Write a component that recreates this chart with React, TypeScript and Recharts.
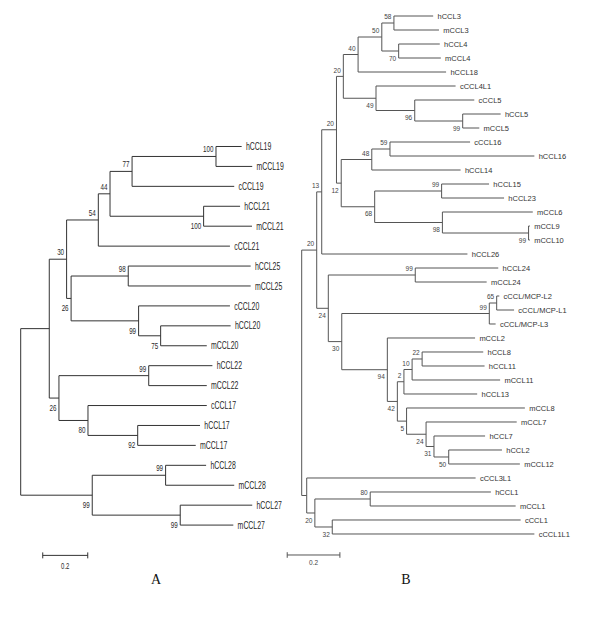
import { ComposedChart, ReferenceLine, Scatter, XAxis, YAxis } from 'recharts'

// ---- panel A: CCL19/21/25/20/22/17/28/27 ----
const leavesA = [
  'hCCL19', 'mCCL19', 'cCCL19', 'hCCL21', 'mCCL21', 'cCCL21', 'hCCL25', 'mCCL25', 'cCCL20', 'hCCL20',
  'mCCL20', 'hCCL22', 'mCCL22', 'cCCL17', 'hCCL17', 'mCCL17', 'hCCL28', 'mCCL28', 'hCCL27', 'mCCL27',
]
// distance from root (substitutions per site)
const leafDepthA = [
  0.982, 1.029, 0.949, 0.975, 1.028, 0.93, 1.022, 1.022, 0.93, 0.933,
  0.827, 0.852, 0.827, 0.827, 0.797, 0.778, 0.824, 0.949, 1.029, 0.945,
]

type Clade = { id: string; kids: [string, string]; depth: number; boot: number | null }

// kids are listed top first
const cladesA: Clade[] = [
  { id: 'a1', kids: ['hCCL19', 'mCCL19'], depth: 0.868, boot: 100 },
  { id: 'a2', kids: ['a1', 'cCCL19'], depth: 0.495, boot: 77 },
  { id: 'a3', kids: ['hCCL21', 'mCCL21'], depth: 0.813, boot: 100 },
  { id: 'a4', kids: ['a2', 'a3'], depth: 0.397, boot: 44 },
  { id: 'a5', kids: ['a4', 'cCCL21'], depth: 0.345, boot: 54 },
  { id: 'a6', kids: ['hCCL25', 'mCCL25'], depth: 0.478, boot: 98 },
  { id: 'a7', kids: ['hCCL20', 'mCCL20'], depth: 0.622, boot: 75 },
  { id: 'a8', kids: ['cCCL20', 'a7'], depth: 0.524, boot: 99 },
  { id: 'a9', kids: ['a6', 'a8'], depth: 0.224, boot: 26 },
  { id: 'a10', kids: ['a5', 'a9'], depth: 0.204, boot: 30 },
  { id: 'a11', kids: ['hCCL22', 'mCCL22'], depth: 0.569, boot: 99 },
  { id: 'a12', kids: ['hCCL17', 'mCCL17'], depth: 0.52, boot: 92 },
  { id: 'a13', kids: ['cCCL17', 'a12'], depth: 0.299, boot: 80 },
  { id: 'a14', kids: ['a11', 'a13'], depth: 0.17, boot: 26 },
  { id: 'a15', kids: ['a10', 'a14'], depth: 0.127, boot: null },
  { id: 'a16', kids: ['hCCL28', 'mCCL28'], depth: 0.644, boot: 99 },
  { id: 'a17', kids: ['hCCL27', 'mCCL27'], depth: 0.709, boot: 99 },
  { id: 'a18', kids: ['a16', 'a17'], depth: 0.318, boot: 99 },
  { id: 'a19', kids: ['a15', 'a18'], depth: 0, boot: null },
]

// ---- panel B: the CC chemokines ----
const leavesB = [
  'hCCL3', 'mCCL3', 'hCCL4', 'mCCL4', 'hCCL18', 'cCCL4L1', 'cCCL5', 'hCCL5', 'mCCL5', 'cCCL16',
  'hCCL16', 'hCCL14', 'hCCL15', 'hCCL23', 'mCCL6', 'mCCL9', 'mCCL10', 'hCCL26', 'hCCL24', 'mCCL24',
  'cCCL/MCP-L2', 'cCCL/MCP-L1', 'cCCL/MCP-L3', 'mCCL2', 'hCCL8', 'hCCL11', 'mCCL11', 'hCCL13', 'mCCL8', 'mCCL7',
  'hCCL7', 'hCCL2', 'mCCL12', 'cCCL3L1', 'hCCL1', 'mCCL1', 'cCCL1', 'cCCL1L1',
]
const leafDepthB = [
  0.499, 0.521, 0.524, 0.528, 0.548, 0.584, 0.655, 0.755, 0.674, 0.639,
  0.883, 0.603, 0.711, 0.768, 0.877, 0.866, 0.866, 0.629, 0.746, 0.702,
  0.75, 0.806, 0.736, 0.658, 0.689, 0.694, 0.753, 0.666, 0.847, 0.816,
  0.696, 0.76, 0.828, 0.66, 0.718, 0.812, 0.831, 0.883,
]
const cladesB: Clade[] = [
  { id: 'b1', kids: ['hCCL3', 'mCCL3'], depth: 0.35, boot: 58 },
  { id: 'b2', kids: ['hCCL4', 'mCCL4'], depth: 0.368, boot: 70 },
  { id: 'b3', kids: ['b1', 'b2'], depth: 0.304, boot: 50 },
  { id: 'b4', kids: ['b3', 'hCCL18'], depth: 0.214, boot: 40 },
  { id: 'b5', kids: ['hCCL5', 'mCCL5'], depth: 0.611, boot: 99 },
  { id: 'b6', kids: ['cCCL5', 'b5'], depth: 0.429, boot: 96 },
  { id: 'b7', kids: ['cCCL4L1', 'b6'], depth: 0.282, boot: 49 },
  { id: 'b8', kids: ['b4', 'b7'], depth: 0.158, boot: 20 },
  { id: 'b9', kids: ['cCCL16', 'hCCL16'], depth: 0.335, boot: 59 },
  { id: 'b10', kids: ['b9', 'hCCL14'], depth: 0.266, boot: 48 },
  { id: 'b11', kids: ['hCCL15', 'hCCL23'], depth: 0.531, boot: 99 },
  { id: 'b12', kids: ['mCCL9', 'mCCL10'], depth: 0.861, boot: 99 },
  { id: 'b13', kids: ['mCCL6', 'b12'], depth: 0.534, boot: 98 },
  { id: 'b14', kids: ['b11', 'b13'], depth: 0.277, boot: 68 },
  { id: 'b15', kids: ['b10', 'b14'], depth: 0.15, boot: 12 },
  { id: 'b16', kids: ['b8', 'b15'], depth: 0.132, boot: 20 },
  { id: 'b17', kids: ['b16', 'hCCL26'], depth: 0.076, boot: 13 },
  { id: 'b18', kids: ['hCCL24', 'mCCL24'], depth: 0.431, boot: 99 },
  { id: 'b19', kids: ['cCCL/MCP-L2', 'cCCL/MCP-L1'], depth: 0.74, boot: 65 },
  { id: 'b20', kids: ['b19', 'cCCL/MCP-L3'], depth: 0.712, boot: 99 },
  { id: 'b21', kids: ['hCCL8', 'hCCL11'], depth: 0.457, boot: 22 },
  { id: 'b22', kids: ['b21', 'mCCL11'], depth: 0.419, boot: 10 },
  { id: 'b23', kids: ['b22', 'hCCL13'], depth: 0.388, boot: 2 },
  { id: 'b24', kids: ['hCCL2', 'mCCL12'], depth: 0.558, boot: 50 },
  { id: 'b25', kids: ['hCCL7', 'b24'], depth: 0.502, boot: 31 },
  { id: 'b26', kids: ['mCCL7', 'b25'], depth: 0.472, boot: 24 },
  { id: 'b27', kids: ['mCCL8', 'b26'], depth: 0.398, boot: 5 },
  { id: 'b28', kids: ['b23', 'b27'], depth: 0.363, boot: 42 },
  { id: 'b29', kids: ['mCCL2', 'b28'], depth: 0.325, boot: 94 },
  { id: 'b30', kids: ['b20', 'b29'], depth: 0.152, boot: 30 },
  { id: 'b31', kids: ['b18', 'b30'], depth: 0.101, boot: 24 },
  { id: 'b32', kids: ['b17', 'b31'], depth: 0.057, boot: 20 },
  { id: 'b33', kids: ['hCCL1', 'mCCL1'], depth: 0.26, boot: 80 },
  { id: 'b34', kids: ['cCCL1', 'cCCL1L1'], depth: 0.116, boot: 32 },
  { id: 'b35', kids: ['b33', 'b34'], depth: 0.05, boot: 20 },
  { id: 'b36', kids: ['cCCL3L1', 'b35'], depth: 0.019, boot: null },
  { id: 'b37', kids: ['b32', 'b36'], depth: 0, boot: null },
]

const scaleBarLength = 0.2

type Pt = { x: number; y: number }

// rectangular cladogram layout: leaves on rows, clades at the mean of their kids
function layoutTree(leaves: string[], depths: number[], clades: Clade[]) {
  const pos = new Map<string, Pt>()
  leaves.forEach((name, i) => pos.set(name, { x: depths[i], y: i }))
  const side = new Map<string, 'up' | 'down'>()
  clades.forEach((c) => {
    const a = pos.get(c.kids[0])!
    const b = pos.get(c.kids[1])!
    pos.set(c.id, { x: c.depth, y: (a.y + b.y) / 2 })
    side.set(c.kids[0], 'up')
    side.set(c.kids[1], 'down')
  })
  const segments: [Pt, Pt][] = []
  clades.forEach((c) => {
    const [a, b] = c.kids.map((k) => pos.get(k)!)
    segments.push([{ x: c.depth, y: a.y }, { x: c.depth, y: b.y }])
    c.kids.forEach((k) => {
      const p = pos.get(k)!
      segments.push([{ x: c.depth, y: p.y }, { x: p.x, y: p.y }])
    })
  })
  const tips = leaves.map((name) => ({ ...pos.get(name)!, name }))
  const boots = clades
    .filter((c) => c.boot !== null)
    .map((c) => ({ ...pos.get(c.id)!, name: String(c.boot), side: side.get(c.id) }))
  return { segments, tips, boots }
}

function scaleBar(x0: number, row: number, tick: number) {
  const x1 = x0 + scaleBarLength
  const segments: [Pt, Pt][] = [
    [{ x: x0, y: row }, { x: x1, y: row }],
    [{ x: x0, y: row - tick }, { x: x0, y: row + tick }],
    [{ x: x1, y: row - tick }, { x: x1, y: row + tick }],
  ]
  return { segments, label: [{ x: (x0 + x1) / 2, y: row, name: String(scaleBarLength) }] }
}

const treeA = layoutTree(leavesA, leafDepthA, cladesA)
const treeB = layoutTree(leavesB, leafDepthB, cladesB)
const barA = scaleBar(0.098, 20.52, 0.15)
const barB = scaleBar(-0.055, 38.5, 0.2)

const SANS = '"Liberation Sans", Arial, sans-serif'

// panel A text is condensed, panel B plain
const tipA = (p: any) => (
  <text transform={`translate(${p.cx + 4.3},${p.cy + 3.6}) scale(0.66,1)`} fontSize={10.5} fontFamily={SANS} fill="#1f1f1f">
    {p.payload.name}
  </text>
)
const bootA = (p: any) => (
  <text
    transform={`translate(${p.cx - 2.5},${p.payload.side === 'up' ? p.cy - 4 : p.cy + 12.8}) scale(0.66,1)`}
    fontSize={9.5}
    fontFamily={SANS}
    textAnchor="end"
    fill="#2a2a2a"
  >
    {p.payload.name}
  </text>
)
const barLabelA = (p: any) => (
  <text transform={`translate(${p.cx},${p.cy + 13.5}) scale(0.7,1)`} fontSize={8.5} fontFamily={SANS} textAnchor="middle" fill="#2a2a2a">
    {p.payload.name}
  </text>
)
const tipB = (p: any) => (
  <text x={p.cx + 4.3} y={p.cy + 2.7} fontSize={7.5} fontFamily={SANS} fill="#333">
    {p.payload.name}
  </text>
)
const bootB = (p: any) => (
  <text
    x={p.cx - 2.5}
    y={p.payload.side === 'up' ? p.cy - 3.7 : p.cy + 9.6}
    fontSize={6.5}
    fontFamily={SANS}
    textAnchor="end"
    fill="#444"
  >
    {p.payload.name}
  </text>
)
const barLabelB = (p: any) => (
  <text x={p.cx} y={p.cy + 10} fontSize={6.5} fontFamily={SANS} textAnchor="middle" fill="#444">
    {p.payload.name}
  </text>
)

export default function App() {
  return (
    <div style={{ position: 'absolute', left: 0, top: 0, width: 600, height: 620, background: '#fff' }}>
      <ComposedChart width={600} height={620} margin={{ top: 0, right: 0, bottom: 0, left: 0 }}>
        <XAxis xAxisId="a" type="number" dataKey="x" domain={[-0.092, 2.5747]} hide allowDataOverflow />
        <YAxis yAxisId="a" type="number" dataKey="y" domain={[-7.352, 23.763]} reversed hide allowDataOverflow />
        <XAxis xAxisId="b" type="number" dataKey="x" domain={[-1.145, 1.1321]} hide allowDataOverflow />
        <YAxis yAxisId="b" type="number" dataKey="y" domain={[-1.1429, 43.1429]} reversed hide allowDataOverflow />

        {[...treeA.segments, ...barA.segments].map((s, i) => (
          <ReferenceLine key={`a${i}`} xAxisId="a" yAxisId="a" segment={s} stroke="#333" strokeWidth={1} ifOverflow="visible" />
        ))}
        {[...treeB.segments, ...barB.segments].map((s, i) => (
          <ReferenceLine key={`b${i}`} xAxisId="b" yAxisId="b" segment={s} stroke="#555" strokeWidth={1} ifOverflow="visible" />
        ))}

        <Scatter xAxisId="a" yAxisId="a" data={treeA.tips} shape={tipA} isAnimationActive={false} />
        <Scatter xAxisId="a" yAxisId="a" data={treeA.boots} shape={bootA} isAnimationActive={false} />
        <Scatter xAxisId="a" yAxisId="a" data={barA.label} shape={barLabelA} isAnimationActive={false} />
        <Scatter xAxisId="b" yAxisId="b" data={treeB.tips} shape={tipB} isAnimationActive={false} />
        <Scatter xAxisId="b" yAxisId="b" data={treeB.boots} shape={bootB} isAnimationActive={false} />
        <Scatter xAxisId="b" yAxisId="b" data={barB.label} shape={barLabelB} isAnimationActive={false} />
      </ComposedChart>
      <svg width={600} height={620} style={{ position: 'absolute', left: 0, top: 0, pointerEvents: 'none' }}>
        <text x={156} y={584} fontSize={14} fontFamily='"Liberation Serif", "Times New Roman", serif' textAnchor="middle" fill="#111">
          A
        </text>
        <text x={406} y={584} fontSize={14} fontFamily='"Liberation Serif", "Times New Roman", serif' textAnchor="middle" fill="#111">
          B
        </text>
      </svg>
    </div>
  )
}
